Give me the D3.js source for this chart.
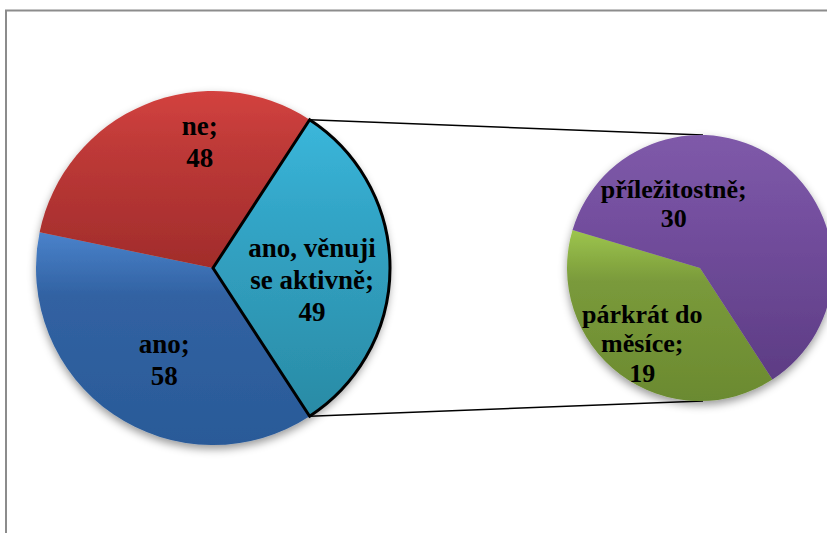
<!DOCTYPE html>
<html>
<head>
<meta charset="utf-8">
<script src="https://cdn.jsdelivr.net/npm/d3@7/dist/d3.min.js"></script>
<style>
    html, body { margin: 0; padding: 0; background: #fff; }
    svg { display: block; }
    .lbl { font-family: "Liberation Serif", "Times New Roman", serif; font-weight: bold; fill: #000; }
</style>
</head>
<body>
<svg id="chart" width="827" height="533"></svg>
<script>
// main pie
let mainLabels = ["ano, věnuji\nse aktivně", "ano", "ne"];
let mainValues = [49, 58, 48];
let mainColors = [["#3bb7db", "#33a6c8", "#2a8ba5"], ["#4a82cb", "#3162a2", "#2a5a98"], ["#d3423f", "#bf3a38", "#a12c2b"]];
// secondary pie (split of "ano, věnuji se aktivně")
let subLabels = ["párkrát do\nměsíce", "příležitostně"];
let subValues = [19, 30];
let subColors = [["#9dc54d", "#7a9a3b", "#6b8a30"], ["#7f5aa9", "#7550a0", "#5d3c84"]];

const W = 827, H = 533;
const MAIN = {cx: 213, cy: 268, r: 177, font: 27, lh: 32};
const SUB = {cx: 700, cy: 268, r: 133, font: 26, lh: 29.5, startDeg: 147};
// label nudges from arc centroid (k = 0.65)
const mainNudge = [[-16, 11.5], [16, -3.6], [31, -20]];
const subNudge = [[-6, 6], [-78, 4.6]];

const svg = d3.select("#chart");
const defs = svg.append("defs");

let shadow = defs.append("filter").attr("id", "shadow")
    .attr("x", "-20%").attr("y", "-20%").attr("width", "140%").attr("height", "140%");
shadow.append("feDropShadow")
    .attr("dx", 0).attr("dy", 4).attr("stdDeviation", 4)
    .attr("flood-color", "#000").attr("flood-opacity", 0.4);

function addGradient(id, stops) {
    let g = defs.append("linearGradient").attr("id", id)
        .attr("x1", 0).attr("y1", 0).attr("x2", 0).attr("y2", 1);
    g.append("stop").attr("offset", "0%").attr("stop-color", stops[0]);
    g.append("stop").attr("offset", "30%").attr("stop-color", stops[1]);
    g.append("stop").attr("offset", "100%").attr("stop-color", stops[2]);
}
mainColors.forEach((c, i) => addGradient("gm" + i, c));
subColors.forEach((c, i) => addGradient("gs" + i, c));

// frame
svg.append("rect")
    .attr("x", 6).attr("y", 10.5).attr("width", W + 20).attr("height", H + 20)
    .attr("fill", "none").attr("stroke", "#8c8c8c").attr("stroke-width", 2);

function drawLabel(g, text, value, x, y, cfg) {
    let lines = text.split("\n");
    lines[lines.length - 1] += ";";
    lines.push(String(value));
    let n = lines.length;
    let t = g.append("text").attr("class", "lbl")
        .attr("text-anchor", "middle")
        .style("font-size", cfg.font + "px");
    let b0 = y - (n - 1) * cfg.lh / 2 + 0.35 * cfg.font;
    lines.forEach((l, i) => {
        t.append("tspan").attr("x", x).attr("y", b0 + i * cfg.lh).text(l);
    });
}

// main pie: first slice centred at 3 o'clock
const mainTotal = d3.sum(mainValues);
const firstSpan = mainValues[0] / mainTotal * 2 * Math.PI;
const mainStart = Math.PI / 2 - firstSpan / 2;
const mainPie = d3.pie().sort(null).startAngle(mainStart).endAngle(mainStart + 2 * Math.PI);
const mainArcs = mainPie(mainValues);
const mainArc = d3.arc().innerRadius(0).outerRadius(MAIN.r);
const mainLabelArc = d3.arc().innerRadius(MAIN.r * 0.65).outerRadius(MAIN.r * 0.65);

const subStart = SUB.startDeg * Math.PI / 180;
const subPie = d3.pie().sort(null).startAngle(subStart).endAngle(subStart + 2 * Math.PI);
const subArcs = subPie(subValues);
const subArc = d3.arc().innerRadius(0).outerRadius(SUB.r);
const subLabelArc = d3.arc().innerRadius(SUB.r * 0.65).outerRadius(SUB.r * 0.65);

// connector lines
function polar(cx, cy, r, a) {
    return [cx + r * Math.sin(a), cy - r * Math.cos(a)];
}
let p1 = polar(MAIN.cx, MAIN.cy, MAIN.r, mainArcs[0].startAngle);
let p2 = polar(MAIN.cx, MAIN.cy, MAIN.r, mainArcs[0].endAngle);
svg.append("line").attr("x1", p1[0]).attr("y1", p1[1])
    .attr("x2", SUB.cx + 3).attr("y2", SUB.cy - SUB.r)
    .attr("stroke", "#000").attr("stroke-width", 1.5);
svg.append("line").attr("x1", p2[0]).attr("y1", p2[1])
    .attr("x2", SUB.cx + 3).attr("y2", SUB.cy + SUB.r)
    .attr("stroke", "#000").attr("stroke-width", 1.5);

// main pie
let gMain = svg.append("g").attr("transform", "translate(" + MAIN.cx + "," + MAIN.cy + ")");
let gMainSlices = gMain.append("g").attr("filter", "url(#shadow)");
gMainSlices.selectAll("path")
    .data(mainArcs)
    .enter()
    .append("path")
    .attr("d", mainArc)
    .attr("fill", (d, i) => "url(#gm" + i + ")");
// outline of the split slice
gMain.append("path")
    .attr("d", mainArc(mainArcs[0]))
    .attr("fill", "none").attr("stroke", "#000")
    .attr("stroke-width", 3).attr("stroke-linejoin", "miter");
mainArcs.forEach((d, i) => {
    let c = mainLabelArc.centroid(d);
    drawLabel(gMain, mainLabels[i], mainValues[i], c[0] + mainNudge[i][0], c[1] + mainNudge[i][1], MAIN);
});

// secondary pie
let gSub = svg.append("g").attr("transform", "translate(" + SUB.cx + "," + SUB.cy + ")");
gSub.append("g").attr("filter", "url(#shadow)")
    .selectAll("path")
    .data(subArcs)
    .enter()
    .append("path")
    .attr("d", subArc)
    .attr("fill", (d, i) => "url(#gs" + i + ")");
subArcs.forEach((d, i) => {
    let c = subLabelArc.centroid(d);
    drawLabel(gSub, subLabels[i], subValues[i], c[0] + subNudge[i][0], c[1] + subNudge[i][1], SUB);
});
</script>
</body>
</html>
